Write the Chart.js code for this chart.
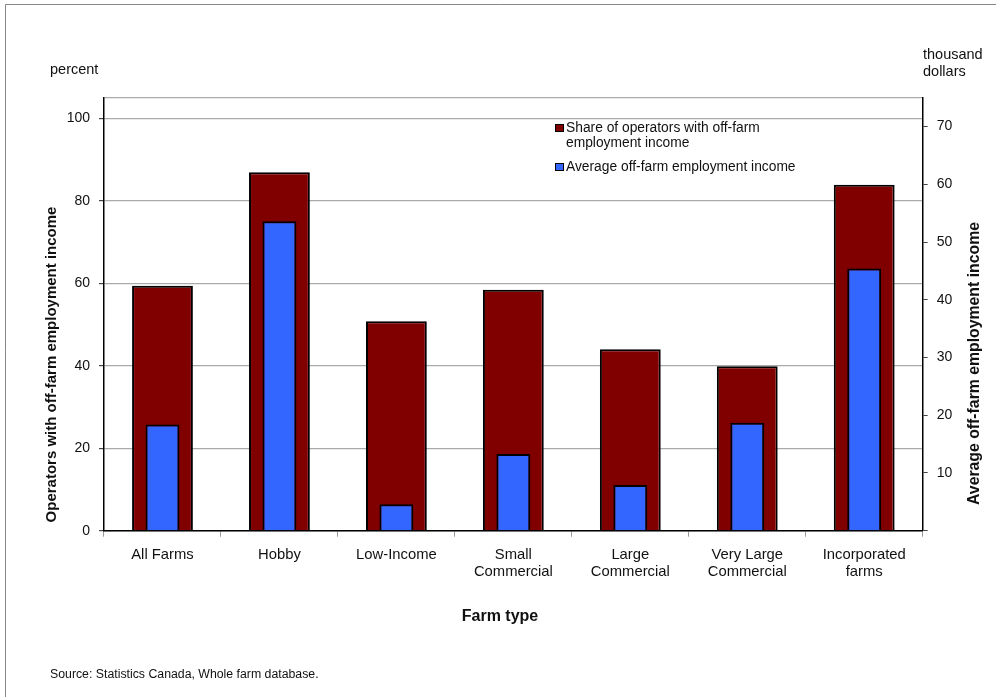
<!DOCTYPE html>
<html>
<head>
<meta charset="utf-8">
<script src="https://cdn.jsdelivr.net/npm/chart.js@4"></script>
<style>
  html, body { margin: 0; padding: 0; background: #fff; }
  #wrap { width: 996px; height: 697px; position: relative; }
</style>
</head>
<body>
<div id="wrap"><canvas id="c" width="996" height="697"></canvas></div>
<script>
const categories = [['All Farms'], ['Hobby'], ['Low-Income'], ['Small', 'Commercial'], ['Large', 'Commercial'], ['Very Large', 'Commercial'], ['Incorporated', 'farms']];
const shareOperators = [59.4, 86.9, 50.8, 58.4, 44.0, 39.9, 83.9];
const avgIncome = [18.4, 53.6, 4.6, 13.3, 7.9, 18.7, 45.4];
const shareLabel = ['Share of operators with off-farm', 'employment income'];
const incomeLabel = 'Average off-farm employment income';
const leftTicks = [0, 20, 40, 60, 80, 100];
const rightTicks = [10, 20, 30, 40, 50, 60, 70];
const leftTitle = 'Operators with off-farm employment income';
const rightTitle = 'Average off-farm employment income';
const leftUnit = 'percent';
const rightUnit = ['thousand', 'dollars'];
const xTitle = 'Farm type';
const sourceNote = 'Source: Statistics Canada, Whole farm database.';

const FONT = "'Liberation Sans', Arial, sans-serif";
const RED = '#800000';
const BLUE = '#3366FF';
const LEFT_MAX = 105;
const RIGHT_MAX = 75;

const decor = {
  id: 'decor',
  afterDraw(chart) {
    const ctx = chart.ctx;
    const area = chart.chartArea;
    ctx.save();
    // outer frame (top and left)
    ctx.strokeStyle = '#888';
    ctx.lineWidth = 1;
    ctx.beginPath();
    ctx.moveTo(5.5, 697);
    ctx.lineTo(5.5, 4.5);
    ctx.lineTo(996, 4.5);
    ctx.stroke();

    ctx.fillStyle = '#111';
    ctx.font = '14.5px ' + FONT;
    ctx.textBaseline = 'middle';
    ctx.textAlign = 'left';
    ctx.fillText(leftUnit, 50, 70);
    ctx.fillText(rightUnit[0], 923, 55);
    ctx.fillText(rightUnit[1], 923, 72);

    // axis titles
    ctx.textAlign = 'center';
    ctx.font = 'bold 15px ' + FONT;
    ctx.save();
    ctx.translate(52, 364.5);
    ctx.rotate(-Math.PI / 2);
    ctx.fillText(leftTitle, 0, 0);
    ctx.restore();
    ctx.font = 'bold 15.8px ' + FONT;
    ctx.save();
    ctx.translate(975, 363.5);
    ctx.rotate(-Math.PI / 2);
    ctx.fillText(rightTitle, 0, 0);
    ctx.restore();

    ctx.font = 'bold 16px ' + FONT;
    ctx.fillText(xTitle, 500, 617);

    ctx.font = '12.3px ' + FONT;
    ctx.textAlign = 'left';
    ctx.fillText(sourceNote, 50, 675);

    // legend inside plot
    const ds = chart.data.datasets;
    ctx.font = '13.8px ' + FONT;
    ctx.lineWidth = 1;
    ctx.strokeStyle = '#000';
    ctx.fillStyle = ds[1].backgroundColor;
    ctx.fillRect(555.5, 124.5, 8, 7);
    ctx.strokeRect(555.5, 124.5, 8, 7);
    ctx.fillStyle = ds[0].backgroundColor;
    ctx.fillRect(555.5, 163.5, 8, 7);
    ctx.strokeRect(555.5, 163.5, 8, 7);
    ctx.fillStyle = '#111';
    const lbl = ds[1].label;
    ctx.fillText(lbl[0], 566, 128.5);
    ctx.fillText(lbl[1], 566, 143.5);
    ctx.fillText(ds[0].label, 566, 167);
    ctx.restore();
  }
};

new Chart(document.getElementById('c'), {
  type: 'bar',
  data: {
    labels: categories,
    datasets: [
      {
        label: incomeLabel,
        data: avgIncome,
        yAxisID: 'y1',
        backgroundColor: BLUE,
        borderColor: '#000',
        borderWidth: 2,
        categoryPercentage: 1,
        barPercentage: 0.29,
        grouped: false,
        order: 0
      },
      {
        label: shareLabel,
        data: shareOperators,
        yAxisID: 'y',
        backgroundColor: RED,
        borderColor: '#000',
        borderWidth: 2,
        categoryPercentage: 1,
        barPercentage: 0.52,
        grouped: false,
        order: 1
      }
    ]
  },
  options: {
    responsive: false,
    animation: false,
    layout: { padding: { left: 0, right: 0, top: 97.7, bottom: 0 } },
    plugins: {
      legend: { display: false },
      tooltip: { enabled: false }
    },
    scales: {
      x: {
        afterFit(s) { s.height = 166.3; },
        grid: { offset: true, drawOnChartArea: false, color: '#999', tickLength: 6 },
        border: { color: '#000', width: 1.5 },
        ticks: { color: '#111', font: { family: FONT, size: 14.8 }, padding: 9, maxRotation: 0, autoSkip: false }
      },
      y: {
        position: 'left',
        min: 0, max: LEFT_MAX,
        afterFit(s) { s.width = 104; },
        afterBuildTicks(s) { s.ticks = leftTicks.concat([LEFT_MAX]).map(v => ({ value: v })); },
        grid: {
          color: '#aaa', lineWidth: 1.2, tickLength: 5,
          tickColor: c => (c.tick && c.tick.value === LEFT_MAX ? 'rgba(0,0,0,0)' : '#444')
        },
        border: { color: '#000', width: 1.5 },
        ticks: {
          color: '#111', font: { family: FONT, size: 14 }, padding: 9,
          callback: v => (leftTicks.includes(v) ? String(v) : '')
        }
      },
      y1: {
        position: 'right',
        min: 0, max: RIGHT_MAX,
        afterFit(s) { s.width = 996 - 922.7; },
        afterBuildTicks(s) { s.ticks = [0].concat(rightTicks).map(v => ({ value: v })); },
        grid: { drawOnChartArea: false, color: '#aaa', tickColor: '#444', tickLength: 5 },
        border: { color: '#000', width: 1.5 },
        ticks: {
          color: '#111', font: { family: FONT, size: 14 }, padding: 9,
          callback: v => (rightTicks.includes(v) ? String(v) : '')
        }
      }
    }
  },
  plugins: [decor]
});
</script>
</body>
</html>
